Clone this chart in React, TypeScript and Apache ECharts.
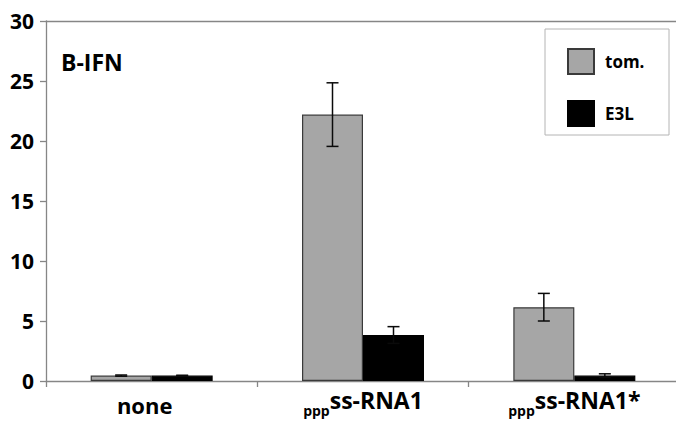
import React, { useEffect, useRef } from "react";
import * as echarts from "echarts";

const categoryPrefixes = ["", "ppp", "ppp"];
const categoryNames = ["none", "ss-RNA1", "ss-RNA1*"];
const tomValues = [0.45, 22.2, 6.15];
const tomErrors = [0.05, 2.65, 1.15];
const e3lValues = [0.45, 3.83, 0.45];
const e3lErrors = [0.03, 0.7, 0.15];
const yMin = 0;
const yMax = 30;
const yInterval = 5;

const FONT = "Open Sans";

function errorSeries(name: string, values: number[], errors: number[], offset: number) {
  return {
    type: "custom",
    name,
    xAxisIndex: 0,
    yAxisIndex: 0,
    z: 5,
    silent: true,
    encode: { x: 0, y: 1 },
    data: values.map((v, i) => [i, v, errors[i]]),
    renderItem: (params: any, api: any) => {
      const i = api.value(0);
      const v = api.value(1);
      const e = api.value(2);
      const x = api.coord([i, v])[0] + offset;
      const yTop = api.coord([i, v + e])[1];
      const yBot = api.coord([i, Math.max(0, v - e)])[1];
      const cap = 6;
      const style = { stroke: "#0a0a0a", lineWidth: 1.5 };
      return {
        type: "group",
        children: [
          { type: "line", shape: { x1: x, y1: yTop, x2: x, y2: yBot }, style },
          { type: "line", shape: { x1: x - cap, y1: yTop, x2: x + cap, y2: yTop }, style },
          { type: "line", shape: { x1: x - cap, y1: yBot, x2: x + cap, y2: yBot }, style },
        ],
      };
    },
  };
}

export default function App() {
  const ref = useRef<HTMLDivElement>(null);
  useEffect(() => {
    if (!ref.current) return;
    const chart = echarts.init(ref.current, null, { renderer: "svg" });
    const categories = categoryNames.map((n, i) => categoryPrefixes[i] + n);
    const axisColor = "#868686";
    const barWidth = 61;
    chart.setOption({
      animation: false,
      backgroundColor: "#ffffff",
      grid: {
        left: 46,
        top: 21,
        width: 634,
        height: 360,
        containLabel: false,
        outerBoundsMode: "none",
      },
      legend: {
        data: ["tom.", "E3L"],
        orient: "vertical",
        left: 567,
        top: 48,
        padding: 0,
        itemWidth: 26,
        itemHeight: 25,
        itemGap: 25,
        icon: "rect",
        selectedMode: false,
        textStyle: {
          fontFamily: FONT,
          fontWeight: "bold",
          fontSize: 17,
          color: "#000",
          padding: [0, 0, 0, 6],
        },
      },
      graphic: [
        {
          type: "rect",
          shape: { x: 545, y: 29, width: 124, height: 106 },
          style: { fill: "none", stroke: "#b4b4b4", lineWidth: 1 },
          z: 1,
        },
        {
          type: "text",
          x: 61,
          y: 62,
          style: {
            text: "B-IFN",
            fontFamily: FONT,
            fontWeight: "bold",
            fontSize: 23,
            fill: "#000",
            verticalAlign: "middle",
          },
        },
      ],
      xAxis: [
        {
          type: "category",
          data: categories,
          position: "bottom",
          axisLine: { show: true, lineStyle: { color: axisColor, width: 1.3 } },
          axisTick: { show: true, length: 6, lineStyle: { color: axisColor, width: 1.3 } },
          axisLabel: {
            margin: 7,
            color: "#000",
            formatter: (_v: string, idx: number) =>
              categoryPrefixes[idx]
                ? `{sub|${categoryPrefixes[idx]}}{main|${categoryNames[idx]}}`
                : `{n|${categoryNames[idx]}}`,
            rich: {
              main: {
                fontFamily: FONT,
                fontWeight: "bold",
                fontSize: 23,
                lineHeight: 27,
                verticalAlign: "top",
                color: "#000",
              },
              sub: {
                fontFamily: FONT,
                fontWeight: "bold",
                fontSize: 14,
                lineHeight: 16,
                verticalAlign: "top",
                padding: [15, 0, 0, 0],
                color: "#000",
              },
              n: {
                fontFamily: FONT,
                fontWeight: "bold",
                fontSize: 22,
                lineHeight: 27,
                verticalAlign: "top",
                padding: [6, 14, 0, 0],
                color: "#000",
              },
            },
          },
          splitLine: { show: false },
        },
        {
          type: "category",
          data: categories,
          position: "top",
          axisLine: { show: true, lineStyle: { color: axisColor, width: 1.3 } },
          axisTick: { show: false },
          axisLabel: { show: false },
          splitLine: { show: false },
        },
      ],
      yAxis: {
        type: "value",
        min: yMin,
        max: yMax,
        interval: yInterval,
        axisLine: { show: true, lineStyle: { color: axisColor, width: 1.3 } },
        axisTick: { show: true, length: 6, lineStyle: { color: axisColor, width: 1.3 } },
        axisLabel: {
          margin: 12,
          fontFamily: FONT,
          fontWeight: "bold",
          fontSize: 21,
          color: "#000",
        },
        splitLine: { show: false },
      },
      series: [
        {
          type: "bar",
          name: "tom.",
          xAxisIndex: 0,
          data: tomValues,
          barWidth,
          barGap: "0%",
          itemStyle: { color: "#a6a6a6", borderColor: "#3a3a3a", borderWidth: 1.2 },
        },
        {
          type: "bar",
          name: "E3L",
          xAxisIndex: 0,
          data: e3lValues,
          barWidth,
          barGap: "0%",
          itemStyle: { color: "#000000", borderColor: "#000000", borderWidth: 1.2 },
        },
        errorSeries("tomErr", tomValues, tomErrors, -barWidth / 2),
        errorSeries("e3lErr", e3lValues, e3lErrors, barWidth / 2),
      ],
    });
    return () => chart.dispose();
  }, []);
  return (
    <div
      ref={ref}
      style={{ position: "fixed", left: 0, top: 0, width: 676, height: 427 }}
    />
  );
}
